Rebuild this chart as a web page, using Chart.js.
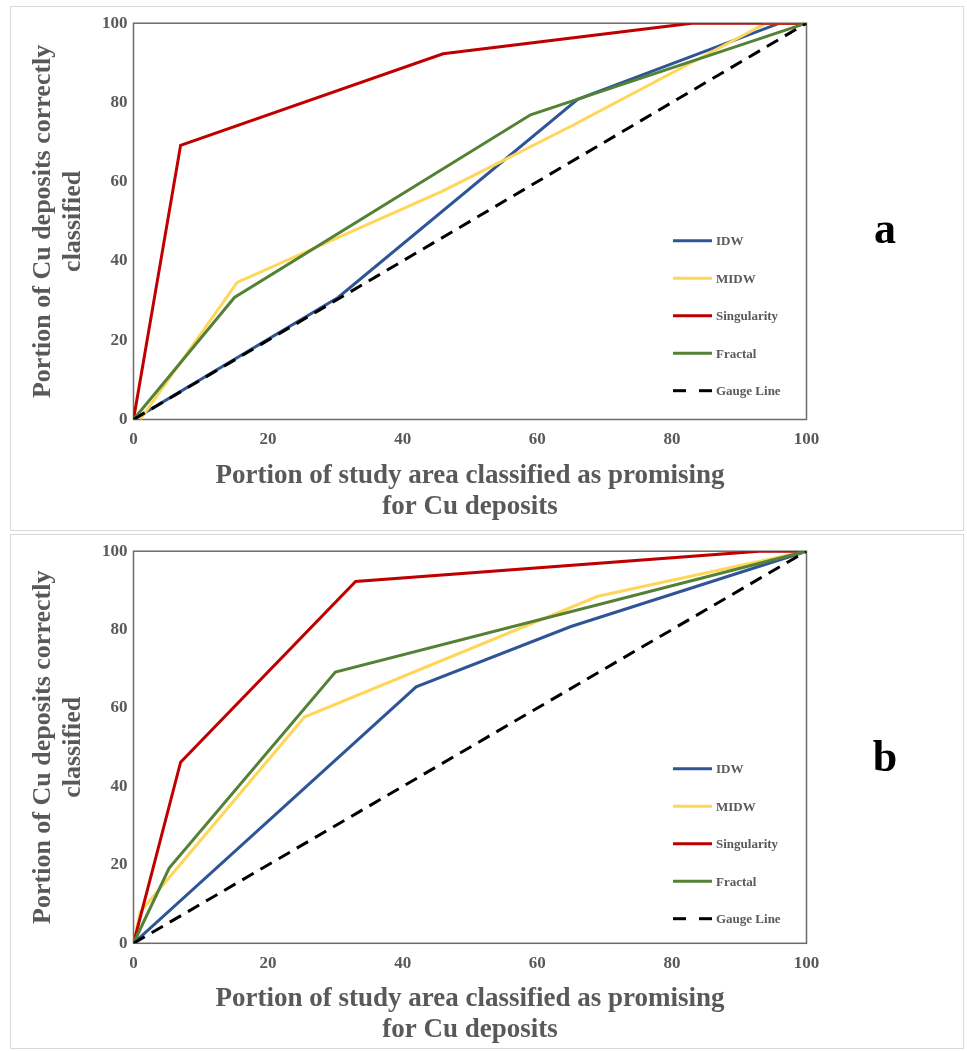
<!DOCTYPE html>
<html>
<head>
<meta charset="utf-8">
<script src="https://cdn.jsdelivr.net/npm/chart.js@4.4.1/dist/chart.umd.min.js"></script>
<style>
    body { margin: 0; background: #fff; }
    .panel {
        position: absolute;
        left: 10px;
        border: 1px solid #d9d9d9;
        background: #fff;
    }
    .panel canvas { display: block; }
</style>
</head>
<body>
<div class="panel" style="top:6px"><canvas id="chartA" width="952" height="523"></canvas></div>
<div class="panel" style="top:534px"><canvas id="chartB" width="952" height="513"></canvas></div>

<script>
//================================================
// DATA
// ===============================================
const seriesNames = ['IDW', 'MIDW', 'Singularity', 'Fractal', 'Gauge Line'];
const axisTicks = [0, 20, 40, 60, 80, 100];

// panel a
const idwAx = [0, 30.4, 66, 96, 100];
const idwAy = [0, 30.8, 80.8, 100, 100];
const midwAx = [1, 15.4, 46, 65, 94, 100];
const midwAy = [0, 34.6, 57.7, 74, 100, 100];
const singAx = [0, 7, 46, 83, 100];
const singAy = [0, 69.2, 92.3, 100, 100];
const fracAx = [0, 15, 59, 100];
const fracAy = [0, 30.8, 76.9, 100];

// panel b
const idwBx = [0, 42, 65, 100];
const idwBy = [0, 65.4, 80.8, 100];
const midwBx = [0, 1, 25.4, 69, 100];
const midwBy = [0, 8, 57.7, 88.5, 100];
const singBx = [0, 7, 33, 93, 100];
const singBy = [0, 46.2, 92.3, 100, 100];
const fracBx = [0, 5.3, 30, 100];
const fracBy = [0, 19.2, 69.2, 100];

// reference diagonal, same for both
const gaugeX = [0, 100];
const gaugeY = [0, 100];

// ===============================================
// HELPERS
// ===============================================
const SERIF = "'Liberation Serif', 'Times New Roman', serif";
const GREY = '#595959';

const lineStyles = [
    { color: '#2f5597', dash: [] },
    { color: '#ffd658', dash: [] },
    { color: '#c00000', dash: [] },
    { color: '#538135', dash: [] },
    { color: '#000000', dash: [13, 8] }
];

function toPoints(xs, ys) {
    return xs.map((x, i) => ({ x: x, y: ys[i] }));
}

// plot frame under the lines
const framePlugin = {
    id: 'plotFrame',
    beforeDatasetsDraw(chart) {
        const { ctx, chartArea: a } = chart;
        ctx.save();
        ctx.strokeStyle = '#6b6b6b';
        ctx.lineWidth = 1.5;
        ctx.strokeRect(a.left, a.top, a.right - a.left, a.bottom - a.top);
        ctx.restore();
    }
};

// legend inside the plot + panel letter
const legendPlugin = {
    id: 'insideLegend',
    afterDatasetsDraw(chart, args, opts) {
        const { ctx, chartArea: a } = chart;
        const x0 = a.left + 539.5;
        ctx.save();
        chart.data.datasets.forEach((ds, i) => {
            const y = a.top + 217.5 + i * 37.5;
            ctx.beginPath();
            ctx.strokeStyle = ds.borderColor;
            ctx.lineWidth = 3;
            ctx.setLineDash(ds.borderDash && ds.borderDash.length ? [13, 13] : []);
            ctx.moveTo(x0, y);
            ctx.lineTo(x0 + 39, y);
            ctx.stroke();
            ctx.setLineDash([]);
            ctx.fillStyle = GREY;
            ctx.font = 'bold 13px ' + SERIF;
            ctx.textAlign = 'left';
            ctx.textBaseline = 'middle';
            ctx.fillText(ds.label, x0 + 43, y + 1);
        });
        ctx.fillStyle = '#000';
        ctx.font = 'bold 44px ' + SERIF;
        ctx.textAlign = 'center';
        ctx.textBaseline = 'alphabetic';
        ctx.fillText(opts.tag, 874, 236);
        ctx.restore();
    }
};

function createRocChart(canvas, xsList, ysList, box, tag) {
    const datasets = seriesNames.map((name, i) => ({
        label: name,
        data: toPoints(xsList[i], ysList[i]),
        borderColor: lineStyles[i].color,
        backgroundColor: lineStyles[i].color,
        borderDash: lineStyles[i].dash,
        borderWidth: 3,
        pointRadius: 0,
        tension: 0,
        fill: false,
        order: seriesNames.length - 1 - i
    }));

    return new Chart(canvas, {
        type: 'line',
        data: { datasets: datasets },
        options: {
            responsive: false,
            animation: false,
            layout: {
                padding: { top: box.top, right: canvas.width - box.right, left: 0, bottom: 0 }
            },
            plugins: {
                legend: { display: false },
                tooltip: { enabled: false },
                insideLegend: { tag: tag }
            },
            scales: {
                x: {
                    type: 'linear',
                    min: 0,
                    max: 100,
                    afterBuildTicks: s => { s.ticks = axisTicks.map(v => ({ value: v })); },
                    afterFit: s => { s.height = canvas.height - box.bottom; },
                    grid: { display: false, drawTicks: false },
                    border: { display: false },
                    ticks: {
                        color: GREY,
                        padding: 10,
                        font: { family: SERIF, size: 17, weight: 'bold' }
                    },
                    title: {
                        display: true,
                        text: ['Portion of study area classified as promising', 'for Cu deposits'],
                        color: GREY,
                        padding: { top: 0, bottom: box.titlePad },
                        font: { family: SERIF, size: 27, weight: 'bold', lineHeight: 1.15 }
                    }
                },
                y: {
                    type: 'linear',
                    min: 0,
                    max: 100,
                    afterBuildTicks: s => { s.ticks = axisTicks.map(v => ({ value: v })); },
                    afterFit: s => { s.width = box.left; },
                    grid: { display: false, drawTicks: false },
                    border: { display: false },
                    ticks: {
                        color: GREY,
                        padding: 6,
                        font: { family: SERIF, size: 17, weight: 'bold' }
                    },
                    title: {
                        display: true,
                        text: ['Portion of Cu deposits correctly', 'classified'],
                        color: GREY,
                        padding: { top: 17, bottom: 0 },
                        font: { family: SERIF, size: 26, weight: 'bold', lineHeight: 1.15 }
                    }
                }
            }
        },
        plugins: [framePlugin, legendPlugin]
    });
}

// ===============================================
// BUILD BOTH PANELS
// ===============================================
const chartA = createRocChart(
    document.getElementById('chartA'),
    [idwAx, midwAx, singAx, fracAx, gaugeX],
    [idwAy, midwAy, singAy, fracAy, gaugeY],
    { left: 122.5, top: 15.5, right: 795.5, bottom: 412.5, titlePad: 7.5 },
    'a'
);

const chartB = createRocChart(
    document.getElementById('chartB'),
    [idwBx, midwBx, singBx, fracBx, gaugeX],
    [idwBy, midwBy, singBy, fracBy, gaugeY],
    { left: 122.5, top: 11.7, right: 795.5, bottom: 408.3, titlePad: 2.5 },
    'b'
);
</script>
</body>
</html>
